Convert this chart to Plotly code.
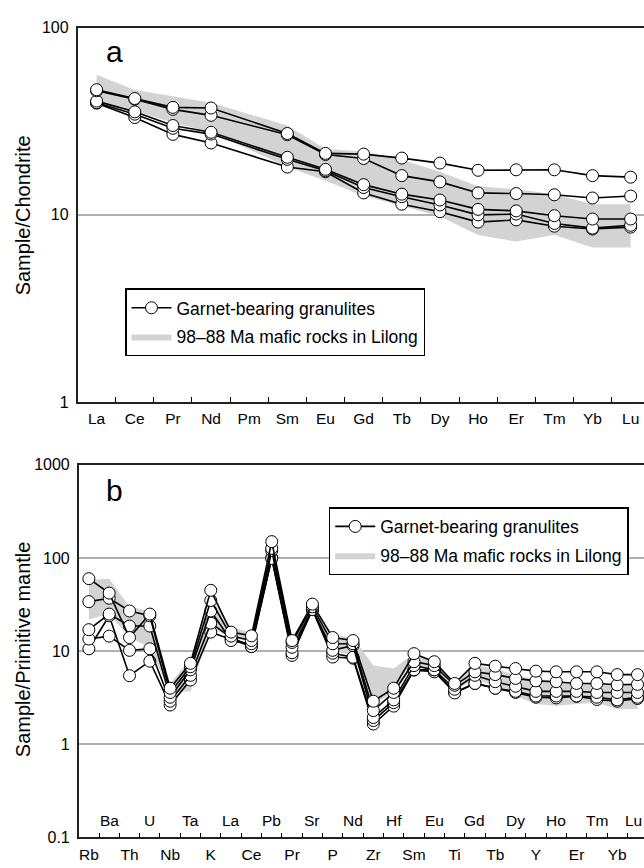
import plotly.graph_objects as go

# ---------------- data ----------------
ree = ["La", "Ce", "Pr", "Nd", "Pm", "Sm", "Eu", "Gd", "Tb", "Dy", "Ho", "Er", "Tm", "Yb", "Lu"]
ree_s1 = [46.6, 41.8, 37.5, 37.2, None, 27.2, 21.3, 21.1, 20.1, 18.9, 17.3, 17.4, 17.4, 16.2, 15.9]
ree_s2 = [46.0, 41.5, 36.6, 34.0, None, 26.8, 21.0, 20.0, 16.2, 15.0, 13.1, 13.0, 12.8, 12.3, 12.6]
ree_s3 = [40.5, 35.5, 30.0, 27.6, None, 20.3, 17.5, 14.5, 12.9, 12.0, 10.7, 10.5, 9.9, 9.5, 9.5]
ree_s4 = [39.7, 34.5, 29.0, 27.0, None, 19.8, 17.2, 14.0, 12.5, 11.3, 10.0, 10.1, 9.0, 8.5, 8.8]
ree_s5 = [39.5, 33.1, 26.9, 24.2, None, 18.0, 17.0, 13.1, 11.4, 10.4, 9.15, 9.4, 8.7, 8.4, 8.6]
ree_band_hi = [56, 46.5, 43, 39.7, None, 30, 22.5, 21.8, 19.7, 17, 14.2, 13.7, 12.9, 11.4, 11.4]
ree_band_lo = [39, 36, 31, 27.6, None, 18, 15.2, 12.6, 11.2, 9.8, 7.8, 7.2, 7.8, 6.7, 6.7]

tr = ["Rb", "Ba", "Th", "U", "Nb", "Ta", "K", "La", "Ce", "Pb", "Pr", "Sr", "P", "Nd",
      "Zr", "Hf", "Sm", "Eu", "Ti", "Gd", "Tb", "Dy", "Y", "Ho", "Er", "Tm", "Yb", "Lu"]
tr_s1 = [60, 42, 14, 25, 4.0, 7.4, 45, 16, 14.6, 150, 13, 32, 14, 13, 2.9, 4.0, 9.4, 7.7, 4.5,
         7.4, 6.9, 6.5, 6.1, 6.0, 6.0, 6.0, 5.6, 5.6]
tr_s2 = [34, 37, 27, 24, 3.6, 6.8, 35, 14.5, 13, 127, 12.4, 30, 12, 12, 2.3, 3.6, 7.7, 7.0, 4.3,
         6.0, 5.6, 5.1, 4.8, 4.7, 4.5, 4.5, 4.35, 4.4]
tr_s3 = [17, 25, 18.6, 18.6, 3.2, 6.3, 27, 13, 12, 120, 11, 28, 10.2, 11.5, 1.94, 3.0, 7.0, 6.3, 3.9,
         5.5, 4.7, 4.2, 3.7, 3.7, 3.7, 3.6, 3.6, 3.6]
tr_s4 = [13.5, 14.5, 10.2, 10.6, 2.9, 5.5, 20, 14, 11.2, 99, 9.6, 28, 9.5, 8.6, 1.8, 2.8, 6.3, 6.3, 3.56,
         4.5, 4.0, 3.7, 3.3, 3.3, 3.3, 3.2, 3.0, 3.2]
tr_s5 = [10.6, 24, 5.45, 7.8, 2.64, 4.9, 16, 13.5, 11.2, 100, 9.0, 27.9, 8.65, 8.4, 1.65, 2.57, 6.26, 6.0, 3.6,
         4.5, 4.0, 3.6, 3.2, 3.15, 3.28, 3.03, 2.9, 3.1]
tr_band_hi = [58, 60, 30, 27, 4.5, 8.3, 38, 18, 16, 140, 13.5, 32, 15, 14, 7, 6.5, 9.5, 7.5, 4.6,
              7, 6.5, 5.5, 5.0, 4.7, 4.5, 4.5, 4.3, 4.3]
tr_band_lo = [22, 25, 14, 11, 3.6, 3.7, 18, 14, 13, 100, 10, 27, 10, 9, 2.7, 3.6, 7, 6.2, 3.8,
              5, 4.2, 3.3, 2.7, 2.6, 2.7, 2.8, 2.4, 2.4]

label_samples = "Garnet-bearing granulites"
label_band = "98\u201388 Ma mafic rocks in Lilong"

# ---------------- layout helpers ----------------
W, H = 644, 868
FONT = "Liberation Sans, Arial, sans-serif"
BAND = "#d3d3d3"


def fx(p):
    return p / W


def fy(p):
    return 1 - p / H


fig = go.Figure()


def band_trace(cats, hi, lo, xa, ya, legend):
    idx = [i for i in range(len(cats)) if hi[i] is not None]
    xs = idx + idx[::-1]
    ys = [hi[i] for i in idx] + [lo[i] for i in idx[::-1]]
    return go.Scatter(x=xs, y=ys, fill="toself", fillcolor=BAND, mode="lines",
                      line=dict(width=0, color=BAND), name=label_band,
                      xaxis=xa, yaxis=ya, legend=legend, hoverinfo="skip",
                      legendgroup=legend + "b")


def sample_trace(vals, xa, ya, legend, show):
    return go.Scatter(x=list(range(len(vals))), y=vals, mode="lines+markers",
                      connectgaps=True,
                      line=dict(color="black", width=1.6),
                      marker=dict(size=12, color="white", line=dict(color="black", width=1)),
                      name=label_samples, showlegend=show, legend=legend,
                      legendgroup=legend + "s", xaxis=xa, yaxis=ya)


# panel a
fig.add_trace(band_trace(ree, ree_band_hi, ree_band_lo, "x", "y", "legend"))
for k, s in enumerate([ree_s5, ree_s4, ree_s3, ree_s2, ree_s1]):
    fig.add_trace(sample_trace(s, "x", "y", "legend", k == 0))

# panel b
fig.add_trace(band_trace(tr, tr_band_hi, tr_band_lo, "x2", "y2", "legend2"))
for k, s in enumerate([tr_s5, tr_s4, tr_s3, tr_s2, tr_s1]):
    fig.add_trace(sample_trace(s, "x2", "y2", "legend2", k == 0))

# legend order: samples first, band second
for t in fig.data:
    t.legendrank = 1 if t.name == label_samples else 2

axis_line = dict(showline=True, linecolor="#222222", linewidth=1.5, zeroline=False)
legend_style = dict(xanchor="left", yanchor="top", bgcolor="white", bordercolor="black",
                    borderwidth=1.5, font=dict(size=17.5, family=FONT),
                    tracegroupgap=3, itemwidth=40)

fig.update_layout(
    width=W, height=H, margin=dict(l=0, r=0, t=0, b=0),
    paper_bgcolor="white", plot_bgcolor="white",
    font=dict(family=FONT, color="black"),
    showlegend=True,
    xaxis=dict(domain=[fx(77.55), 1], anchor="y", range=[-0.5, 14.35],
               tickmode="array", tickvals=list(range(len(ree))), ticktext=ree,
               ticks="", showgrid=False, mirror=True, tickfont=dict(size=15.5),
               ticklabelstandoff=2,
               minor=dict(tickmode="array", tickvals=[i + 0.5 for i in range(len(ree) - 1)],
                          ticks="inside", ticklen=5, tickwidth=1.2, tickcolor="black",
                          showgrid=False),
               **axis_line),
    yaxis=dict(domain=[fy(402), fy(20)], anchor="x", type="log", range=[0, 2],
               tickmode="array", tickvals=[1, 10, 100], ticktext=["1", "10", "100"],
               ticks="", showgrid=True, gridcolor="#b0b0b0", gridwidth=1.5,
               mirror=False, tickfont=dict(size=16), ticklabelstandoff=4, **axis_line),
    xaxis2=dict(domain=[fx(78.7), 1], anchor="y2", range=[-0.5, 27.32],
                tickmode="array", tickvals=list(range(0, len(tr), 2)), ticktext=tr[0::2],
                ticks="", showgrid=False, mirror=True, tickfont=dict(size=15.5),
                ticklabelstandoff=2,
                minor=dict(tickmode="array", tickvals=[i + 0.5 for i in range(len(tr) - 1)],
                           ticks="inside", ticklen=5, tickwidth=1.2, tickcolor="black",
                           showgrid=False),
                **axis_line),
    yaxis2=dict(domain=[fy(846), fy(466)], anchor="x2", type="log", range=[-1, 3],
                tickmode="array", tickvals=[0.1, 1, 10, 100, 1000],
                ticktext=["0.1", "1", "10", "100", "1000"],
                ticks="", showgrid=True, gridcolor="#b0b0b0", gridwidth=1.5,
                mirror=False, tickfont=dict(size=16), ticklabelstandoff=4, **axis_line),
    legend=dict(x=fx(125), y=fy(286), **legend_style),
    legend2=dict(x=fx(328.7), y=fy(509), **legend_style),
)

annotations = [
    dict(text="Sample/Chondrite", x=fx(23), y=fy(211.5), xref="paper", yref="paper",
         textangle=-90, showarrow=False, font=dict(size=20), xanchor="center", yanchor="middle"),
    dict(text="Sample/Primitive mantle", x=fx(23), y=fy(654), xref="paper", yref="paper",
         textangle=-90, showarrow=False, font=dict(size=20), xanchor="center", yanchor="middle"),
    dict(text="a", x=fx(114.7), y=fy(44), xref="paper", yref="paper", showarrow=False,
         font=dict(size=30), xanchor="center", yanchor="middle"),
    dict(text="b", x=fx(114.7), y=fy(492), xref="paper", yref="paper", showarrow=False,
         font=dict(size=30), xanchor="center", yanchor="middle"),
]
# upper row of element labels in panel b (last one kept inside the page edge)
for i in range(1, len(tr), 2):
    last = i == len(tr) - 1
    annotations.append(dict(text=tr[i], x=1 if last else i, xref="x2 domain" if last else "x2",
                            y=(846 - 829) / 380, yref="y2 domain",
                            showarrow=False, font=dict(size=15.5),
                            xanchor="right" if last else "center", yanchor="middle"))
fig.update_layout(annotations=annotations)

fig.write_html("out.html")
